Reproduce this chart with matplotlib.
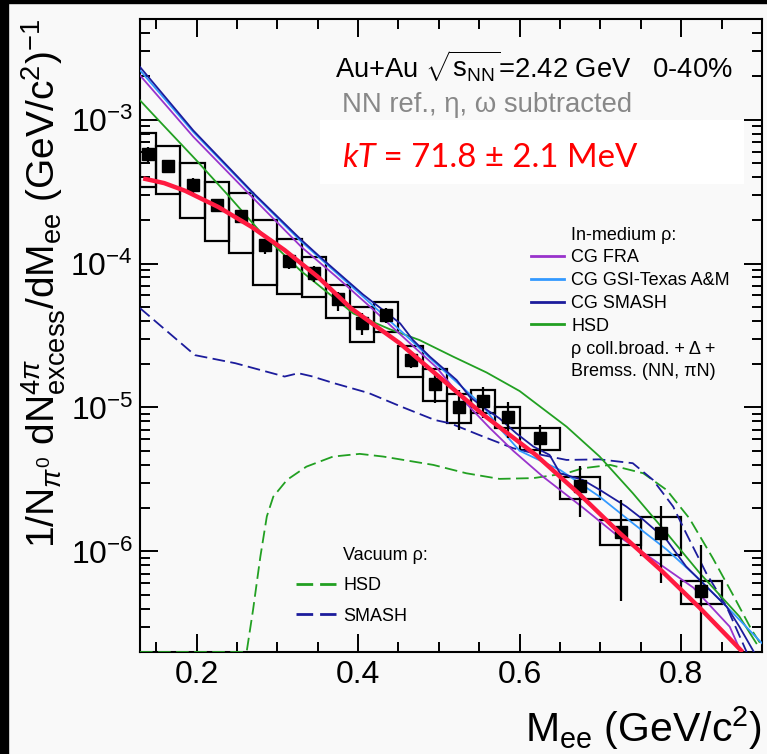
import matplotlib
matplotlib.use("Agg")
import matplotlib.pyplot as plt
from matplotlib.lines import Line2D
from matplotlib.patches import Rectangle
from matplotlib.ticker import LogLocator, NullFormatter, MultipleLocator
import numpy as np

plt.rcParams["font.family"] = ["Liberation Sans", "DejaVu Sans"]
plt.rcParams["mathtext.fontset"] = "custom"
plt.rcParams["mathtext.rm"] = "Liberation Sans"
plt.rcParams["mathtext.it"] = "Liberation Sans:italic"
plt.rcParams["mathtext.bf"] = "Liberation Sans:bold"

# data points (M_ee in GeV/c^2)
m_ee = [0.14, 0.165, 0.195, 0.225, 0.255, 0.285, 0.315, 0.345, 0.375, 0.405, 0.435,
        0.465, 0.495, 0.525, 0.555, 0.585, 0.625, 0.675, 0.725, 0.775, 0.825]
bin_half = [0.01] + [0.015] * 15 + [0.025] * 5
yield_ee = [5.81e-4, 4.76e-4, 3.50e-4, 2.54e-4, 2.13e-4, 1.34e-4, 1.04e-4, 8.53e-5, 5.64e-5,
            3.84e-5, 4.38e-5, 2.14e-5, 1.46e-5, 1.01e-5, 1.11e-5, 8.63e-6, 6.16e-6, 2.85e-6,
            1.37e-6, 1.34e-6, 5.27e-7]
stat_hi = [6.45e-4, 5.2e-4, 3.96e-4, 2.83e-4, 2.37e-4, 1.49e-4, 1.17e-4, 9.6e-5, 6.37e-5,
           4.51e-5, 4.88e-5, 2.40e-5, 1.68e-5, 1.32e-5, 1.39e-5, 1.10e-5, 7.57e-6, 3.95e-6,
           2.28e-6, 2.07e-6, 1.11e-6]
stat_lo = [5.08e-4, 4.26e-4, 3.06e-4, 2.29e-4, 1.95e-4, 1.17e-4, 9.1e-5, 7.46e-5, 4.70e-5,
           3.19e-5, 3.84e-5, 1.87e-5, 1.07e-5, 6.98e-6, 8.41e-6, 6.11e-6, 4.76e-6, 1.73e-6,
           4.49e-7, 6.03e-7, 1.0e-8]
sys_hi = [8.07e-4, 6.53e-4, 5.0e-4, 3.66e-4, 3.10e-4, 2.0e-4, 1.47e-4, 1.11e-4, 7.08e-5,
          4.95e-5, 5.37e-5, 2.69e-5, 1.84e-5, 1.24e-5, 1.32e-5, 1.0e-5, 7.18e-6, 3.31e-6,
          1.64e-6, 1.72e-6, 6.18e-7]
sys_lo = [3.40e-4, 3.03e-4, 2.06e-4, 1.44e-4, 1.19e-4, 7.08e-5, 6.14e-5, 5.82e-5, 4.16e-5,
          2.83e-5, 3.36e-5, 1.62e-5, 1.11e-5, 7.76e-6, 9.12e-6, 7.18e-6, 5.07e-6, 2.32e-6,
          1.10e-6, 9.46e-7, 4.33e-7]

# thermal fit, kT = 71.8 MeV
fit_x = [0.134, 0.16, 0.186, 0.227, 0.268, 0.309, 0.350, 0.391, 0.452, 0.505, 0.555, 0.62,
         0.674, 0.724, 0.775, 0.823, 0.876]
fit_y = [3.9e-4, 3.62e-4, 3.2e-4, 2.47e-4, 1.80e-4, 1.24e-4, 8.1e-5, 4.9e-5, 2.78e-5, 1.55e-5,
         8.9e-6, 4.68e-6, 2.5e-6, 1.34e-6, 7.4e-7, 4.05e-7, 2.0e-7]

# in-medium rho models
fra_x = [0.13, 0.196, 0.27, 0.33, 0.373, 0.415, 0.464, 0.497, 0.535, 0.563, 0.592, 0.629,
         0.679, 0.72, 0.765, 0.815, 0.86, 0.874]
fra_y = [2.03e-3, 7.6e-4, 2.85e-4, 1.3e-4, 8.1e-5, 5.0e-5, 2.8e-5, 1.9e-5, 1.05e-5, 7.2e-6,
         5.0e-6, 3.3e-6, 2.0e-6, 1.3e-6, 8.8e-7, 5.6e-7, 3.0e-7, 2.0e-7]

gsi_x = [0.13, 0.196, 0.27, 0.328, 0.406, 0.468, 0.489, 0.522, 0.555, 0.575, 0.60, 0.65,
         0.699, 0.74, 0.782, 0.823, 0.864, 0.90]
gsi_y = [2.2e-3, 8.2e-4, 3.05e-4, 1.45e-4, 5.9e-5, 2.85e-5, 2.2e-5, 1.5e-5, 1.02e-5, 7.2e-6,
         5.0e-6, 3.68e-6, 2.40e-6, 1.57e-6, 1.03e-6, 6.35e-7, 3.73e-7, 2.3e-7]

smash_x = [0.13, 0.196, 0.27, 0.328, 0.353, 0.406, 0.452, 0.468, 0.489, 0.522, 0.538, 0.555,
           0.575, 0.596, 0.617, 0.637, 0.65, 0.678, 0.699, 0.732, 0.753, 0.782, 0.806,
           0.831, 0.856, 0.872, 0.89]
smash_y = [2.32e-3, 8.4e-4, 3.1e-4, 1.49e-4, 1.11e-4, 6.1e-5, 3.84e-5, 2.94e-5, 2.25e-5,
           1.55e-5, 1.19e-5, 1.0e-5, 8.4e-6, 6.6e-6, 5.35e-6, 4.68e-6, 3.49e-6, 3.14e-6,
           2.68e-6, 2.05e-6, 1.66e-6, 1.2e-6, 7.86e-7, 5.7e-7, 4.15e-7, 3.0e-7, 2.0e-7]

hsd_x = [0.13, 0.153, 0.20, 0.241, 0.279, 0.328, 0.394, 0.439, 0.476, 0.518, 0.559, 0.60,
         0.617, 0.658, 0.699, 0.740, 0.782, 0.823, 0.872, 0.893]
hsd_y = [1.36e-3, 9.9e-4, 5.2e-4, 2.9e-4, 1.66e-4, 9.0e-5, 4.5e-5, 3.5e-5, 2.94e-5, 2.25e-5,
         1.75e-5, 1.3e-5, 1.1e-5, 7.36e-6, 4.56e-6, 2.54e-6, 1.34e-6, 7.06e-7, 3.53e-7,
         2.3e-7]

# vacuum rho models
vac_hsd_x = [0.13, 0.25, 0.262, 0.270, 0.279, 0.287, 0.295, 0.312, 0.336, 0.369, 0.402,
             0.431, 0.493, 0.534, 0.575, 0.617, 0.658, 0.678, 0.712, 0.753, 0.782, 0.810,
             0.839, 0.864, 0.887, 0.90]
vac_hsd_y = [2.0e-7, 2.0e-7, 2.0e-7, 3.94e-7, 9.2e-7, 1.75e-6, 2.4e-6, 3.14e-6, 3.88e-6,
             4.56e-6, 4.76e-6, 4.56e-6, 3.99e-6, 3.49e-6, 3.19e-6, 3.23e-6, 3.49e-6, 3.78e-6,
             3.99e-6, 3.49e-6, 2.67e-6, 1.7e-6, 9.0e-7, 5.0e-7, 2.86e-7, 2.2e-7]

vac_smash_x = [0.13, 0.198, 0.248, 0.309, 0.326, 0.342, 0.371, 0.413, 0.454, 0.495, 0.514,
               0.555, 0.592, 0.617, 0.658, 0.699, 0.740, 0.765, 0.790, 0.806, 0.831, 0.856,
               0.881]
vac_smash_y = [4.9e-5, 2.31e-5, 2.03e-5, 1.64e-5, 1.73e-5, 1.65e-5, 1.47e-5, 1.26e-5,
               1.01e-5, 8.18e-6, 7.76e-6, 6.27e-6, 5.21e-6, 4.81e-6, 4.32e-6, 4.36e-6,
               4.10e-6, 3.14e-6, 2.05e-6, 1.34e-6, 7.06e-7, 4.15e-7, 2.0e-7]

BG = "#f9f9f9"
C_FRA = "#9933cc"
C_GSI = "#3399ff"
C_SMASH = "#1c1c9c"
C_HSD = "#22a022"
C_FIT = "#ff1a40"

fig = plt.figure(figsize=(7.67, 7.54), dpi=100, facecolor=BG)
ax = fig.add_axes([140 / 767, 1 - 652 / 754, 622 / 767, 633 / 754], facecolor=BG)

# black strips on the screenshot edges
fig.add_artist(Rectangle((0, 0), 8 / 767, 1, transform=fig.transFigure, color="black"))
fig.add_artist(Rectangle((0, 1 - 3 / 754), 1, 3 / 754, transform=fig.transFigure, color="black"))

# systematic boxes
for x, hw, lo, hi in zip(m_ee, bin_half, sys_lo, sys_hi):
    ax.add_patch(Rectangle((x - hw, lo), 2 * hw, hi - lo, facecolor="none",
                           edgecolor="black", linewidth=1.6, zorder=2))

dash = (7, 3)
ax.plot(vac_hsd_x, vac_hsd_y, color=C_HSD, lw=1.3, dashes=dash, zorder=3)
ax.plot(vac_smash_x, vac_smash_y, color=C_SMASH, lw=1.3, dashes=dash, zorder=3)
ax.plot(hsd_x, hsd_y, color=C_HSD, lw=1.3, zorder=3)
ax.plot(fra_x, fra_y, color=C_FRA, lw=1.3, zorder=3)
ax.plot(gsi_x, gsi_y, color=C_GSI, lw=1.3, zorder=3)
ax.plot(smash_x, smash_y, color=C_SMASH, lw=1.3, zorder=3)

yv = np.array(yield_ee)
yerr = [yv - np.array(stat_lo), np.array(stat_hi) - yv]
ax.errorbar(m_ee, yield_ee, yerr=yerr, fmt="s", color="black", ms=8.5, elinewidth=1.6,
            capsize=0, zorder=4)

ax.plot(fit_x, fit_y, color=C_FIT, lw=3.2, zorder=5, solid_capstyle="butt")

ax.set_yscale("log")
ax.set_xlim(0.13, 0.9)
ax.set_ylim(2e-7, 5e-3)

ax.xaxis.set_major_locator(MultipleLocator(0.2))
ax.xaxis.set_minor_locator(MultipleLocator(0.05))
ax.yaxis.set_minor_locator(LogLocator(base=10, subs=np.arange(2, 10)))
ax.yaxis.set_minor_formatter(NullFormatter())
ax.tick_params(which="both", direction="in", top=True, right=True, width=1.4,
               labelsize=23, colors="black")
ax.tick_params(which="major", length=13)
ax.tick_params(which="minor", length=7)
ax.tick_params(axis="x", which="major", pad=6)
ax.tick_params(axis="y", which="major", pad=5)
for s in ax.spines.values():
    s.set_linewidth(1.5)

ax.set_xlabel(r"M$_{\mathrm{ee}}$ (GeV/c$^{2}$)", fontsize=29.5, loc="right")
ax.xaxis.set_label_coords(1.0, -0.083)
ax.set_ylabel(r"1/N$_{\pi^{0}}$ dN$^{4\pi}_{\mathrm{excess}}$/dM$_{\mathrm{ee}}$ (GeV/c$^{2}$)$^{-1}$",
              fontsize=28)
ax.yaxis.set_label_coords(-0.115, 0.582)

ax.text(0.3135, 0.908, r"Au+Au $\sqrt{\mathrm{s}_{\mathrm{NN}}}$=2.42 GeV   0-40%",
        transform=ax.transAxes, fontsize=19.7, va="baseline", ha="left")
ax.text(0.325, 0.8536, "NN ref., η, ω subtracted", transform=ax.transAxes,
        fontsize=19.8, va="baseline", ha="left", color="#888888")

ax.add_patch(Rectangle((0.2894, 0.7393), 0.681, 0.1011, transform=ax.transAxes,
                       facecolor="white", edgecolor="none", zorder=6))
t_kt = ax.text(0.3243, 0.7667, "kT", transform=ax.transAxes, fontsize=23.8, style="italic",
               color="#ff0000", family=["Lato", "DejaVu Sans"], va="baseline", zorder=7)
ax.annotate(" = 71.8 ± 2.1 MeV", xy=(1, 0), xycoords=t_kt, fontsize=23.8, color="#ff0000",
            family=["Lato", "DejaVu Sans"], va="bottom", ha="left", zorder=7)

blank = Line2D([], [], color="none")
h_in = [blank,
        Line2D([], [], color=C_FRA, lw=2),
        Line2D([], [], color=C_GSI, lw=2),
        Line2D([], [], color=C_SMASH, lw=2),
        Line2D([], [], color=C_HSD, lw=2),
        blank, blank]
l_in = ["In-medium ρ:", "CG FRA", "CG GSI-Texas A&M", "CG SMASH", "HSD",
        "ρ coll.broad. + Δ +", "Bremss. (NN, πN)"]
leg1 = ax.legend(h_in, l_in, loc="upper left", bbox_to_anchor=(0.6286, 0.672),
                 frameon=False, fontsize=13, handlelength=1.83, handletextpad=0.4,
                 labelspacing=0.32, borderpad=0, borderaxespad=0)
ax.add_artist(leg1)

h_vac = [blank,
         Line2D([], [], color=C_HSD, lw=2, dashes=(6, 2.5)),
         Line2D([], [], color=C_SMASH, lw=2, dashes=(6, 2.5))]
l_vac = ["Vacuum ρ:", "HSD", "SMASH"]
ax.legend(h_vac, l_vac, loc="upper left", bbox_to_anchor=(0.2508, 0.166),
          frameon=False, fontsize=13, handlelength=2.2, handletextpad=0.42,
          labelspacing=0.74, borderpad=0, borderaxespad=0)

fig.savefig("out.png", dpi=100, facecolor=BG)
